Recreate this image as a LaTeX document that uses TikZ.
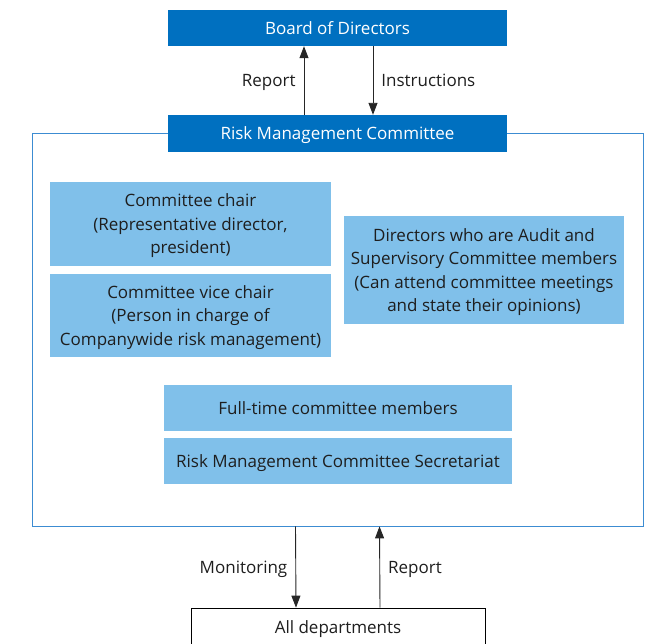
\documentclass[tikz,border=0pt]{standalone}
\usepackage{fontspec}
\setmainfont{Open Sans}
\usetikzlibrary{arrows.meta}
\definecolor{darkblue}{RGB}{0,112,192}
\definecolor{lightblue}{RGB}{128,192,234}
\definecolor{framecol}{RGB}{60,140,210}
\definecolor{textdark}{RGB}{30,30,30}
\begin{document}
\begin{tikzpicture}[x=1pt,y=-1pt,
  font=\fontsize{17}{23.5}\selectfont,
  headbox/.style={fill=darkblue,text=white,minimum width=339pt,minimum height=36pt,inner sep=0pt,text depth=-0.5pt},
  rolebox/.style={fill=lightblue,text=textdark,align=center,inner sep=0pt,text depth=-0.5pt},
  framebox/.style={draw=framecol,line width=0.8pt,minimum width=611pt,minimum height=393pt,inner sep=0pt},
  deptbox/.style={draw=black,line width=0.8pt,fill=white,minimum width=294pt,minimum height=50pt,inner sep=0pt},
  flow/.style={draw=black!85,line width=0.9pt,-{Triangle[width=9pt,length=12pt]}},
  lbl/.style={text=textdark,inner sep=0pt,text depth=-0.5pt}]
\useasboundingbox (0,0) rectangle (659,643);
\clip (0,0) rectangle (659,643);

% outer committee frame
\node[framebox] (frame) at (337.5,329.5) {};

% top level
\node[headbox] (board) at (337.5,28) {Board of Directors};
\node[headbox,minimum height=37pt] (rmc) at (337.5,133.5) {Risk Management Committee};

% committee members
\node[rolebox,minimum width=281pt,minimum height=84pt] (chair) at (190.5,224)
  {Committee chair\\(Representative director,\\president)};
\node[rolebox,minimum width=281pt,minimum height=83pt] (vice) at (190.5,315.5)
  {Committee vice chair\\(Person in charge of\\Companywide risk management)};
\node[rolebox,minimum width=280pt,minimum height=108pt] (audit) at (484,270)
  {Directors who are Audit and\\Supervisory Committee members\\(Can attend committee meetings\\and state their opinions)};
\node[rolebox,minimum width=348pt,minimum height=46pt] (fulltime) at (338,408)
  {Full-time committee members};
\node[rolebox,minimum width=348pt,minimum height=46pt] (secr) at (338,461)
  {Risk Management Committee Secretariat};

% departments
\node[deptbox] (dept) at (338,633) {};
\node[lbl] (depttext) at (338,627) {All departments};

% reporting lines
\draw[flow] ([xshift=-33.5pt]rmc.north) -- ([xshift=-33.5pt]board.south)
  node[lbl,midway,left=8pt] (rep1) {Report};
\draw[flow] ([xshift=35.5pt]board.south) -- ([xshift=35.5pt]rmc.north)
  node[lbl,midway,right=8pt] (instr) {Instructions};
\draw[flow] ([xshift=-42pt]frame.south) -- ([xshift=-42pt]dept.north)
  node[lbl,midway,left=8pt] (mon) {Monitoring};
\draw[flow] ([xshift=42pt]dept.north) -- ([xshift=42pt]frame.south)
  node[lbl,midway,right=8pt] (rep2) {Report};
\end{tikzpicture}
\end{document}
